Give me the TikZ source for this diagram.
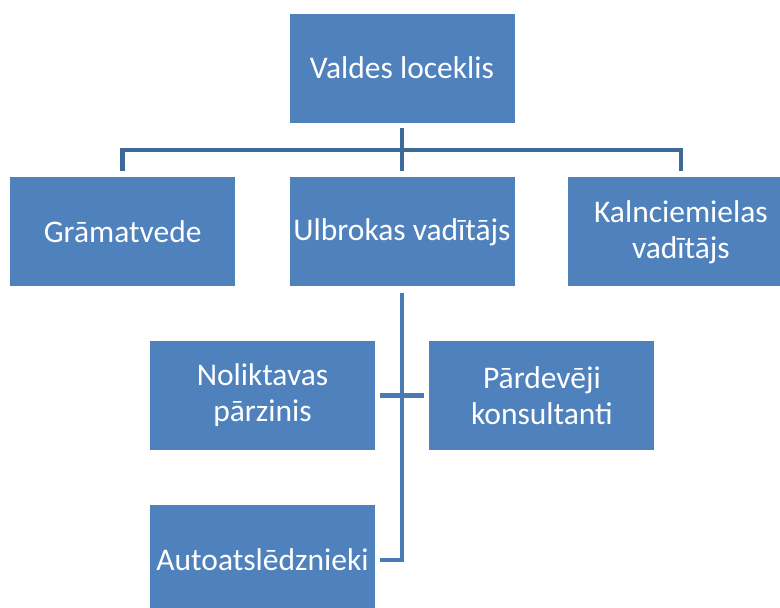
\documentclass[tikz,border=0pt]{standalone}
\usepackage{fontspec}
\setmainfont{Carlito}
\usetikzlibrary{positioning}

\definecolor{boxblue}{RGB}{79,129,189}
\definecolor{topblue}{RGB}{62,106,154}
\definecolor{subblue}{RGB}{72,122,180}

\begin{document}
\begin{tikzpicture}[x=1pt,y=-1pt,node distance=54pt,
    box/.style={fill=boxblue,text=white,minimum width=225pt,minimum height=109pt,
        inner sep=0pt,align=center,font=\fontsize{31.5}{36}\selectfont},
    topline/.style={draw=topblue,line width=4.5pt},
    subline/.style={draw=subblue,line width=4.5pt}]
    \useasboundingbox (0,0) rectangle (780,608);
    \node[box] (valdes) at (402,68) {Valdes loceklis};
    \node[box, below = 54.5pt of valdes] (ulbrokas) {Ulbrokas vadītājs};
    \node[box, left = of ulbrokas] (gramatvede) {Grāmatvede};
    \node[box, right = 53.5pt of ulbrokas] (kalnciems) {Kalnciemielas\\vadītājs};
    \node[box] (noliktavas) at (262.5,395.5) {Noliktavas\\pārzinis};
    \node[box, right = of noliktavas] (pardeveji) {Pārdevēji\\konsultanti};
    \node[box, below = 55pt of noliktavas] (atslednieki) {Autoatslēdznieki};
    \coordinate (bus) at (402,150);
    %

    \draw[topline, shorten <=5pt, shorten >=6pt] (valdes.south) -- (ulbrokas.north);
    \draw[topline, shorten <=6pt, shorten >=6pt] (gramatvede.north) |- (bus) -| (kalnciems.north);
    \draw[subline, shorten <=6pt, shorten >=5pt] (ulbrokas.south) |- (atslednieki.east);
    \draw[subline, shorten <=5pt, shorten >=5pt] (noliktavas.east) -- (pardeveji.west);
\end{tikzpicture}
\end{document}
